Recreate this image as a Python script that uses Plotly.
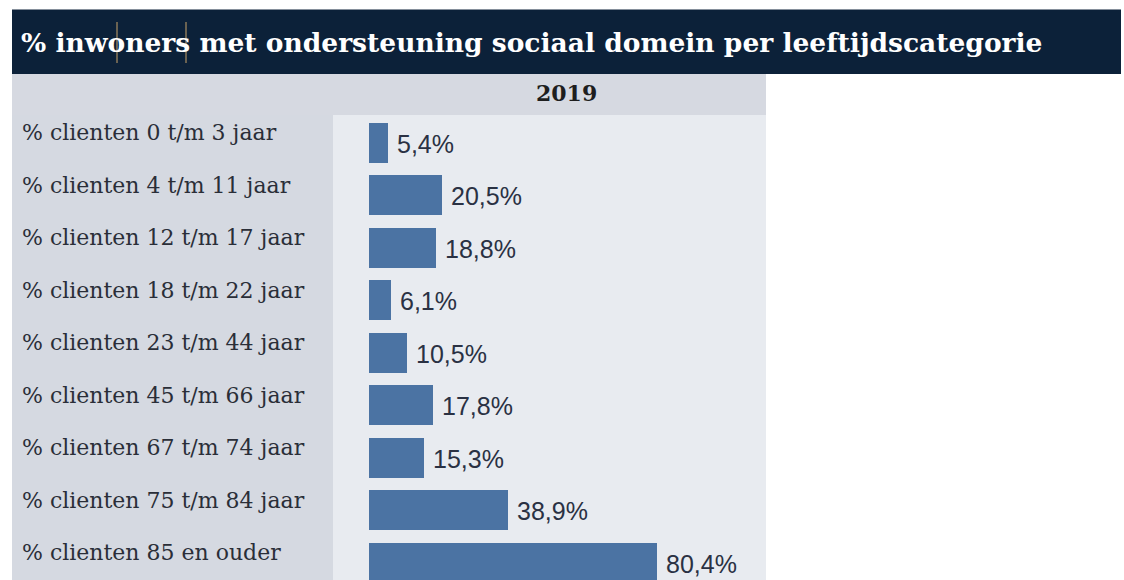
import plotly.graph_objects as go

categories = [
    "% clienten 0 t/m 3 jaar",
    "% clienten 4 t/m 11 jaar",
    "% clienten 12 t/m 17 jaar",
    "% clienten 18 t/m 22 jaar",
    "% clienten 23 t/m 44 jaar",
    "% clienten 45 t/m 66 jaar",
    "% clienten 67 t/m 74 jaar",
    "% clienten 75 t/m 84 jaar",
    "% clienten 85 en ouder",
]
values_2019 = [5.4, 20.5, 18.8, 6.1, 10.5, 17.8, 15.3, 38.9, 80.4]
title_text = "% inwoners met ondersteuning sociaal domein per leeftijdscategorie"
column_header = "2019"

W, H = 1124, 580
def px(x):
    return x / W
def py(y):
    return 1 - y / H

SERIF = "DejaVu Serif, Liberation Serif, serif"
SANS = "Liberation Sans, Arial, sans-serif"

fig = go.Figure()
fig.add_trace(go.Bar(
    x=values_2019, y=categories, orientation="h",
    marker=dict(color="#4b73a3", line=dict(width=0)),
    width=0.762, hoverinfo="skip",
))

shapes = [
    # title bar
    dict(type="rect", xref="paper", yref="paper", x0=px(12), x1=px(1121), y0=py(74), y1=py(9.5),
         fillcolor="#0c2139", line=dict(width=0), layer="below"),
    # header band
    dict(type="rect", xref="paper", yref="paper", x0=px(12), x1=px(766), y0=py(115), y1=py(74),
         fillcolor="#d6d9e1", line=dict(width=0), layer="below"),
    # left label panel
    dict(type="rect", xref="paper", yref="paper", x0=px(12), x1=px(333), y0=0, y1=py(115),
         fillcolor="#d5d9e1", line=dict(width=0), layer="below"),
    # cursor artifacts in the title
    dict(type="line", xref="paper", yref="paper", x0=px(117), x1=px(117), y0=py(63), y1=py(22),
         line=dict(color="#c9a46a", width=1)),
    dict(type="line", xref="paper", yref="paper", x0=px(186), x1=px(186), y0=py(63), y1=py(22),
         line=dict(color="#c9a46a", width=1)),
]

annotations = [
    dict(text="<b>" + title_text + "</b>", xref="paper", yref="paper", x=px(19), y=py(42),
         xanchor="left", yanchor="middle", showarrow=False,
         font=dict(family=SERIF, size=26.5, color="#ffffff")),
    dict(text="<b>" + column_header + "</b>", xref="paper", yref="paper", x=px(566), y=py(93),
         xanchor="center", yanchor="middle", showarrow=False,
         font=dict(family=SERIF, size=22, color="#1e1e1e")),
]
for cat in categories:
    annotations.append(dict(text=cat, xref="paper", yref="y", x=px(20), y=cat,
                            xanchor="left", yanchor="middle", yshift=10, showarrow=False,
                            font=dict(family=SERIF, size=22, color="#2a2e38")))
for cat, v in zip(categories, values_2019):
    annotations.append(dict(text=f"{v:.1f}%".replace(".", ","), xref="x", yref="y", x=v, y=cat,
                            xanchor="left", yanchor="middle", xshift=7, yshift=-1, showarrow=False,
                            font=dict(family=SANS, size=25, color="#2a3143")))

fig.update_layout(
    width=W, height=H,
    margin=dict(l=0, r=0, t=0, b=0),
    paper_bgcolor="#ffffff",
    plot_bgcolor="#e8ebf0",
    showlegend=False,
    bargap=0,
    separators=",.",
    xaxis=dict(domain=[px(333), px(766)], range=[-10.08, 110.95], showgrid=False,
               zeroline=False, showticklabels=False, ticks="", fixedrange=True),
    yaxis=dict(domain=[0, py(115)], range=[8.333, -0.524], showgrid=False, zeroline=False,
               showticklabels=False, ticks="", fixedrange=True),
    shapes=shapes,
    annotations=annotations,
)

fig.write_html("out.html", config={"displayModeBar": False},
               post_script="document.body.style.margin='0';document.body.style.padding='0';")
